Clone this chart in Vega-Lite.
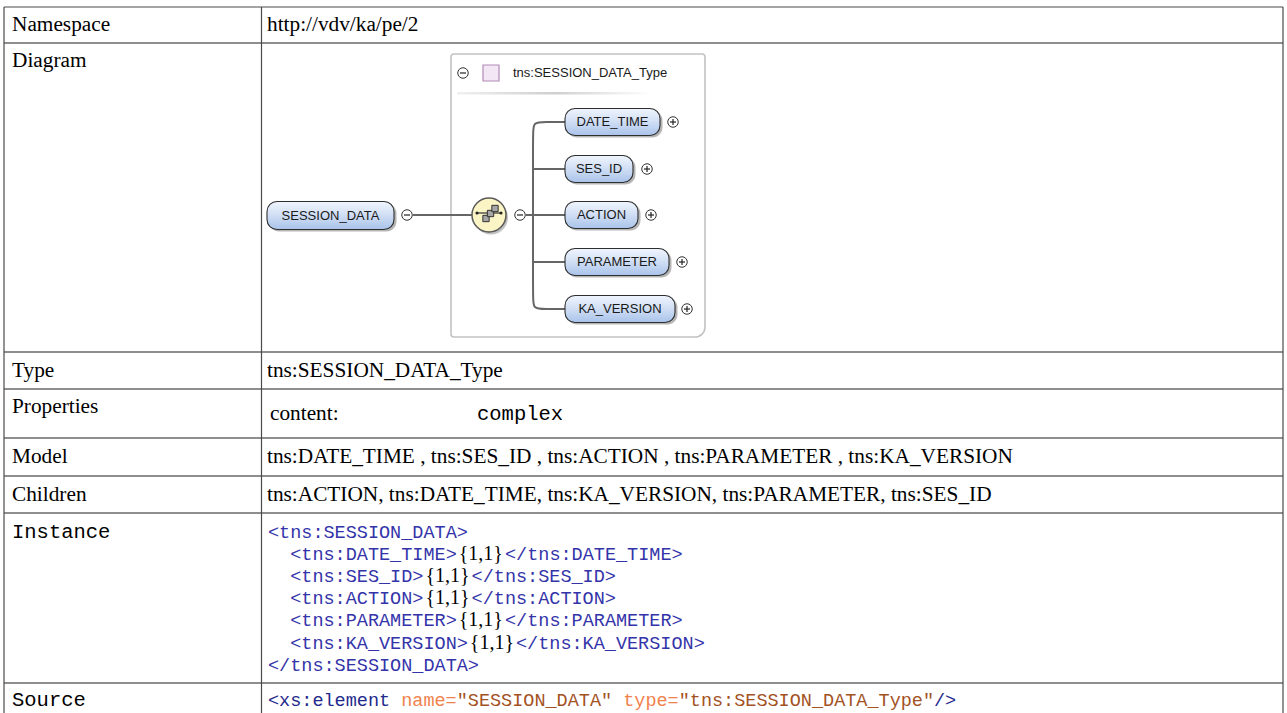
{
  "$schema": "https://vega.github.io/schema/vega-lite/v6.json",
  "width": 1287,
  "height": 713,
  "autosize": "none",
  "padding": 0,
  "background": "white",
  "config": {"view": {"stroke": null}},
  "datasets": {
    "hLines": [
      {"x": 4, "x2": 1283, "y": 43},
      {"x": 4, "x2": 1283, "y": 352},
      {"x": 4, "x2": 1283, "y": 389},
      {"x": 4, "x2": 1283, "y": 438},
      {"x": 4, "x2": 1283, "y": 476},
      {"x": 4, "x2": 1283, "y": 513},
      {"x": 4, "x2": 1283, "y": 683}
    ],
    "outer": [
      {"x": 4, "x2": 1283, "y": 7, "y2": 7},
      {"x": 4, "x2": 4, "y": 7, "y2": 713},
      {"x": 1283, "x2": 1283, "y": 7, "y2": 713},
      {"x": 261.5, "x2": 261.5, "y": 7, "y2": 713}
    ],
    "serifText": [
      {"x": 12, "y": 25, "t": "Namespace"},
      {"x": 12, "y": 61, "t": "Diagram"},
      {"x": 12, "y": 370.5, "t": "Type"},
      {"x": 12, "y": 407, "t": "Properties"},
      {"x": 12, "y": 457, "t": "Model"},
      {"x": 12, "y": 494.5, "t": "Children"},
      {"x": 267, "y": 25, "t": "http://vdv/ka/pe/2"},
      {"x": 267, "y": 370.5, "t": "tns:SESSION_DATA_Type"},
      {"x": 270, "y": 414, "t": "content:"},
      {"x": 267, "y": 457, "t": "tns:DATE_TIME , tns:SES_ID , tns:ACTION , tns:PARAMETER , tns:KA_VERSION"},
      {"x": 267, "y": 494.5, "t": "tns:ACTION, tns:DATE_TIME, tns:KA_VERSION, tns:PARAMETER, tns:SES_ID"}
    ],
    "monoText": [
      {"x": 12, "y": 532, "t": "Instance"},
      {"x": 12, "y": 700, "t": "Source"},
      {"x": 477, "y": 414, "t": "complex"}
    ],
    "code": [
      {"x": 268, "y": 531.5, "t": "<tns:SESSION_DATA>", "role": "tag"},
      {"x": 290.2, "y": 553.7, "t": "<tns:DATE_TIME>", "role": "tag"},
      {"x": 505, "y": 553.7, "t": "</tns:DATE_TIME>", "role": "tag"},
      {"x": 290.2, "y": 575.9, "t": "<tns:SES_ID>", "role": "tag"},
      {"x": 471.6, "y": 575.9, "t": "</tns:SES_ID>", "role": "tag"},
      {"x": 290.2, "y": 598.1, "t": "<tns:ACTION>", "role": "tag"},
      {"x": 471.6, "y": 598.1, "t": "</tns:ACTION>", "role": "tag"},
      {"x": 290.2, "y": 620.3, "t": "<tns:PARAMETER>", "role": "tag"},
      {"x": 505, "y": 620.3, "t": "</tns:PARAMETER>", "role": "tag"},
      {"x": 290.2, "y": 642.5, "t": "<tns:KA_VERSION>", "role": "tag"},
      {"x": 516, "y": 642.5, "t": "</tns:KA_VERSION>", "role": "tag"},
      {"x": 268, "y": 664.7, "t": "</tns:SESSION_DATA>", "role": "tag"},
      {"x": 268, "y": 700, "t": "<xs:element", "role": "elem"},
      {"x": 401.2, "y": 700, "t": "name=", "role": "attr"},
      {"x": 456.7, "y": 700, "t": "\"SESSION_DATA\"", "role": "val"},
      {"x": 623.2, "y": 700, "t": "type=", "role": "attr"},
      {"x": 678.7, "y": 700, "t": "\"tns:SESSION_DATA_Type\"", "role": "val"},
      {"x": 934, "y": 700, "t": "/>", "role": "elem"}
    ],
    "counts": [
      {"x": 458.7, "y": 553.7, "t": "{1,1}"},
      {"x": 425.4, "y": 575.9, "t": "{1,1}"},
      {"x": 425.4, "y": 598.1, "t": "{1,1}"},
      {"x": 458.7, "y": 620.3, "t": "{1,1}"},
      {"x": 469.8, "y": 642.5, "t": "{1,1}"}
    ],
    "typeBox": [{"x": 451, "x2": 705, "y": 54, "y2": 337}],
    "headerSep": [{"x": 457, "x2": 652, "y": 92, "y2": 94.5}],
    "headerSquare": [{"x": 483, "x2": 499, "y": 65, "y2": 81}],
    "headerText": [{"x": 513, "y": 73, "t": "tns:SESSION_DATA_Type"}],
    "connectors": [
      {"x": 413, "x2": 472, "y": 215},
      {"x": 526, "x2": 565, "y": 215},
      {"x": 533, "x2": 565, "y": 169},
      {"x": 533, "x2": 565, "y": 262}
    ],
    "bracket": [
      {"i": 0, "x": 565, "y": 122},
      {"i": 1, "x": 545, "y": 122},
      {"i": 2, "x": 533, "y": 122},
      {"i": 3, "x": 533, "y": 134},
      {"i": 4, "x": 533, "y": 297},
      {"i": 5, "x": 533, "y": 309},
      {"i": 6, "x": 545, "y": 309},
      {"i": 7, "x": 565, "y": 309}
    ],
    "elements": [
      {"name": "SESSION_DATA", "x": 267, "x2": 394, "y": 201.5, "y2": 229.5},
      {"name": "DATE_TIME", "x": 565, "x2": 660, "y": 108.5, "y2": 135.5},
      {"name": "SES_ID", "x": 565, "x2": 633, "y": 155.5, "y2": 182.5},
      {"name": "ACTION", "x": 565, "x2": 638, "y": 201.5, "y2": 228.5},
      {"name": "PARAMETER", "x": 565, "x2": 669, "y": 248.5, "y2": 275.5},
      {"name": "KA_VERSION", "x": 565, "x2": 675, "y": 295.5, "y2": 322.5}
    ],
    "elementShadows": [
      {"x": 269, "x2": 396.5, "y": 203.5, "y2": 231.5},
      {"x": 567, "x2": 662.5, "y": 110.5, "y2": 137.5},
      {"x": 567, "x2": 635.5, "y": 157.5, "y2": 184.5},
      {"x": 567, "x2": 640.5, "y": 203.5, "y2": 230.5},
      {"x": 567, "x2": 671.5, "y": 250.5, "y2": 277.5},
      {"x": 567, "x2": 677.5, "y": 297.5, "y2": 324.5}
    ],
    "elementText": [
      {"x": 330.5, "y": 215.5, "t": "SESSION_DATA"},
      {"x": 612.5, "y": 122, "t": "DATE_TIME"},
      {"x": 599, "y": 169, "t": "SES_ID"},
      {"x": 601.5, "y": 215, "t": "ACTION"},
      {"x": 617, "y": 262, "t": "PARAMETER"},
      {"x": 620, "y": 309, "t": "KA_VERSION"}
    ],
    "toggles": [
      {"x": 463, "y": 73, "kind": "minus"},
      {"x": 407, "y": 215, "kind": "minus"},
      {"x": 520, "y": 215, "kind": "minus"},
      {"x": 673, "y": 122, "kind": "plus"},
      {"x": 647, "y": 169, "kind": "plus"},
      {"x": 651, "y": 215, "kind": "plus"},
      {"x": 682, "y": 262, "kind": "plus"},
      {"x": 687, "y": 309, "kind": "plus"}
    ],
    "toggleH": [
      {"x": 460, "x2": 466, "y": 73},
      {"x": 404, "x2": 410, "y": 215},
      {"x": 517, "x2": 523, "y": 215},
      {"x": 670, "x2": 676, "y": 122},
      {"x": 644, "x2": 650, "y": 169},
      {"x": 648, "x2": 654, "y": 215},
      {"x": 679, "x2": 685, "y": 262},
      {"x": 684, "x2": 690, "y": 309}
    ],
    "toggleV": [
      {"x": 673, "y": 119, "y2": 125},
      {"x": 647, "y": 166, "y2": 172},
      {"x": 651, "y": 212, "y2": 218},
      {"x": 682, "y": 259, "y2": 265},
      {"x": 687, "y": 306, "y2": 312}
    ],
    "seqShadow": [{"x": 491, "y": 217.5}],
    "seq": [{"x": 489, "y": 215}],
    "seqLine": [{"x": 477, "x2": 501, "y": 213}],
    "seqDots": [{"x": 477, "y": 213}, {"x": 501, "y": 213}],
    "seqSquares": [
      {"x": 486, "y": 218.5},
      {"x": 490.5, "y": 213.5},
      {"x": 495, "y": 208.5}
    ]
  },
  "encoding": {
    "x": {"field": "x", "type": "quantitative", "scale": {"domain": [0, 1287], "nice": false, "zero": false}, "axis": null},
    "y": {"field": "y", "type": "quantitative", "scale": {"domain": [0, 713], "nice": false, "zero": false, "reverse": true}, "axis": null}
  },
  "layer": [
    {
      "data": {"name": "hLines"},
      "mark": {"type": "rule", "stroke": "#8e8e8e", "strokeWidth": 2},
      "encoding": {"x2": {"field": "x2"}}
    },
    {
      "data": {"name": "outer"},
      "mark": {"type": "rule", "stroke": "#4a4a4a", "strokeWidth": 1.2},
      "encoding": {"x2": {"field": "x2"}, "y2": {"field": "y2"}}
    },
    {
      "data": {"name": "serifText"},
      "mark": {"type": "text", "font": "Liberation Serif", "fontSize": 21.3, "align": "left", "baseline": "middle", "color": "#000000"},
      "encoding": {"text": {"field": "t"}}
    },
    {
      "data": {"name": "monoText"},
      "mark": {"type": "text", "font": "Liberation Mono", "fontSize": 20.5, "align": "left", "baseline": "middle", "color": "#000000"},
      "encoding": {"text": {"field": "t"}}
    },
    {
      "data": {"name": "code"},
      "mark": {"type": "text", "font": "Liberation Mono", "fontSize": 18.5, "align": "left", "baseline": "middle"},
      "encoding": {
        "text": {"field": "t"},
        "color": {"field": "role", "type": "nominal", "legend": null,
          "scale": {"domain": ["tag", "elem", "attr", "val"], "range": ["#3434aa", "#1f2a8c", "#f0824e", "#a3521f"]}}
      }
    },
    {
      "data": {"name": "counts"},
      "mark": {"type": "text", "font": "Liberation Serif", "fontSize": 20, "align": "left", "baseline": "middle", "color": "#000000"},
      "encoding": {"text": {"field": "t"}}
    },
    {
      "data": {"name": "typeBox"},
      "mark": {"type": "rect", "fill": "#ffffff", "stroke": "#c2c2c2", "strokeWidth": 1.6, "cornerRadius": 3, "cornerRadiusBottomRight": 10},
      "encoding": {"x2": {"field": "x2"}, "y2": {"field": "y2"}}
    },
    {
      "data": {"name": "headerSep"},
      "mark": {"type": "rect",
        "fill": {"gradient": "linear", "x1": 0, "y1": 0, "x2": 1, "y2": 0,
          "stops": [{"offset": 0, "color": "#f0f0f0"}, {"offset": 0.5, "color": "#cfcfcf"}, {"offset": 1, "color": "#ffffff"}]}},
      "encoding": {"x2": {"field": "x2"}, "y2": {"field": "y2"}}
    },
    {
      "data": {"name": "headerSquare"},
      "mark": {"type": "rect", "fill": "#f3e6f5", "stroke": "#b38cb8", "strokeWidth": 1.2},
      "encoding": {"x2": {"field": "x2"}, "y2": {"field": "y2"}}
    },
    {
      "data": {"name": "headerText"},
      "mark": {"type": "text", "font": "Liberation Sans", "fontSize": 13, "align": "left", "baseline": "middle", "color": "#1a1a1a"},
      "encoding": {"text": {"field": "t"}}
    },
    {
      "data": {"name": "connectors"},
      "mark": {"type": "rule", "stroke": "#666666", "strokeWidth": 2},
      "encoding": {"x2": {"field": "x2"}}
    },
    {
      "data": {"name": "bracket"},
      "mark": {"type": "line", "interpolate": "basis", "stroke": "#666666", "strokeWidth": 2},
      "encoding": {"order": {"field": "i", "type": "quantitative"}}
    },
    {
      "data": {"name": "elementShadows"},
      "mark": {"type": "rect", "fill": "#7a7a7a", "opacity": 0.55, "cornerRadius": 10},
      "encoding": {"x2": {"field": "x2"}, "y2": {"field": "y2"}}
    },
    {
      "data": {"name": "elements"},
      "mark": {"type": "rect", "cornerRadius": 10, "stroke": "#2e2e2e", "strokeWidth": 1.1,
        "fill": {"gradient": "linear", "x1": 0, "y1": 0, "x2": 0, "y2": 1,
          "stops": [{"offset": 0, "color": "#f0f5fd"}, {"offset": 0.45, "color": "#d3e0f5"}, {"offset": 1, "color": "#a9c3ea"}]}},
      "encoding": {"x2": {"field": "x2"}, "y2": {"field": "y2"}}
    },
    {
      "data": {"name": "elementText"},
      "mark": {"type": "text", "font": "Liberation Sans", "fontSize": 13, "align": "center", "baseline": "middle", "color": "#1a1a1a"},
      "encoding": {"text": {"field": "t"}}
    },
    {
      "data": {"name": "toggles"},
      "mark": {"type": "point", "shape": "circle", "filled": true, "fill": "#ffffff", "stroke": "#333333", "strokeWidth": 1, "size": 110, "opacity": 1}
    },
    {
      "data": {"name": "toggleH"},
      "mark": {"type": "rule", "stroke": "#222222", "strokeWidth": 1.2},
      "encoding": {"x2": {"field": "x2"}}
    },
    {
      "data": {"name": "toggleV"},
      "mark": {"type": "rule", "stroke": "#222222", "strokeWidth": 1.2},
      "encoding": {"y2": {"field": "y2"}}
    },
    {
      "data": {"name": "seqShadow"},
      "mark": {"type": "point", "shape": "circle", "filled": true, "color": "#9a9a9a", "opacity": 0.6, "size": 1156}
    },
    {
      "data": {"name": "seq"},
      "mark": {"type": "point", "shape": "circle", "filled": true, "fill": "#fbf5c6", "stroke": "#5a5a5a", "strokeWidth": 1.5, "size": 1156, "opacity": 1}
    },
    {
      "data": {"name": "seqLine"},
      "mark": {"type": "rule", "stroke": "#333333", "strokeWidth": 1.2},
      "encoding": {"x2": {"field": "x2"}}
    },
    {
      "data": {"name": "seqDots"},
      "mark": {"type": "point", "shape": "circle", "filled": true, "color": "#222222", "size": 10, "opacity": 1}
    },
    {
      "data": {"name": "seqSquares"},
      "mark": {"type": "point", "shape": "square", "filled": true, "fill": "#a6a6a6", "stroke": "#333333", "strokeWidth": 1, "size": 40, "opacity": 1}
    }
  ]
}
